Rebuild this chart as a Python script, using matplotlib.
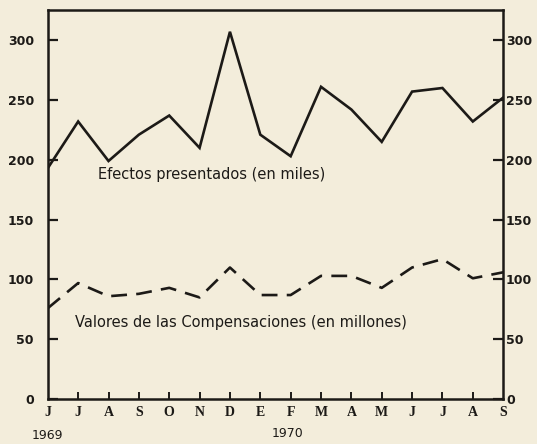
import matplotlib.pyplot as plt

# Months June 1969 - September 1970
months = ['J', 'J', 'A', 'S', 'O', 'N', 'D', 'E', 'F', 'M', 'A', 'M', 'J', 'J', 'A', 'S']
efectos = [193, 232, 199, 221, 237, 210, 307, 221, 203, 261, 242, 215, 257, 260, 232, 252]
valores = [76, 97, 86, 88, 93, 85, 110, 87, 87, 103, 103, 93, 110, 117, 101, 106]
yticks = [0, 50, 100, 150, 200, 250, 300]

paper = '#f3eddb'
ink = '#1c1a17'

fig = plt.figure(figsize=(5.37, 4.44), dpi=100, facecolor=paper)
ax = fig.add_axes([0.089, 0.101, 0.848, 0.876], facecolor=paper)

x = list(range(len(months)))
ax.plot(x, efectos, color=ink, lw=1.9, solid_joinstyle='miter')
ax.plot(x, valores, color=ink, lw=1.9, dashes=(6, 3.5))

ax.set_xlim(0, len(months) - 1)
ax.set_ylim(0, 325)

for s in ax.spines.values():
    s.set_color(ink)
    s.set_linewidth(1.8)

ax.set_yticks(yticks)
ax.set_yticklabels([str(v) for v in yticks], fontsize=9, family='DejaVu Sans',
                   color=ink, fontweight='semibold')
ax.tick_params(axis='y', direction='in', length=7, width=1.6, color=ink, pad=10)

# right-hand scale, same values, labels closer to the axis
ax2 = ax.twinx()
ax2.set_ylim(ax.get_ylim())
ax2.set_yticks(yticks)
ax2.set_yticklabels([str(v) for v in yticks], fontsize=9, family='DejaVu Sans',
                    color=ink, fontweight='semibold')
ax2.tick_params(axis='y', direction='in', length=7, width=1.6, color=ink, pad=2)
for s in ax2.spines.values():
    s.set_visible(False)

ax.set_xticks(x[1:-1])
ax.set_xticklabels([])
ax.tick_params(axis='x', direction='in', length=5, width=1.4, color=ink)

# month letters under the axis (including both corners)
for i, m in enumerate(months):
    ax.text(i, -6, m, ha='center', va='top', fontsize=10, family='Liberation Serif',
            fontweight='bold', color=ink, clip_on=False)
ax.text(0, -25, '1969', ha='center', va='top', fontsize=9, family='DejaVu Sans',
        color=ink, clip_on=False)
ax.text(7.9, -23, '1970', ha='center', va='top', fontsize=9, family='DejaVu Sans',
        color=ink, clip_on=False)

ax.text(1.65, 188, 'Efectos presentados (en miles)', fontsize=10.5, family='DejaVu Sans',
        color=ink, va='center')
ax.text(0.9, 64, 'Valores de las Compensaciones (en millones)', fontsize=10.5,
        family='DejaVu Sans', color=ink, va='center')

fig.savefig('out.png', dpi=100, facecolor=paper)
